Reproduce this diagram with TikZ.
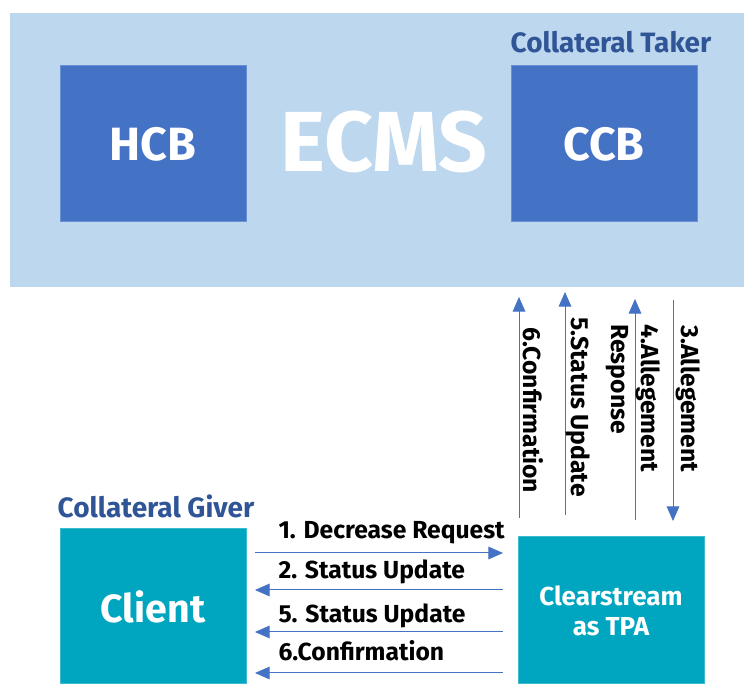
\documentclass[tikz,border=0pt]{standalone}
\usepackage{fontspec}
\setmainfont{Fira Sans}
\usetikzlibrary{arrows.meta}
\definecolor{ecmsbg}{HTML}{BDD7EE}
\definecolor{cbblue}{HTML}{4472C4}
\definecolor{cbedge}{HTML}{6A8FD6}
\definecolor{tpateal}{HTML}{00A6BF}
\definecolor{tpaedge}{HTML}{3DBACD}
\definecolor{rolecol}{HTML}{2F5597}

\tikzset{every picture/.style={line width=0.75pt}}

\begin{document}
\begin{tikzpicture}[x=0.75pt,y=0.75pt,yscale=-1,xscale=1,
	cbbox/.style={draw=cbedge,fill=cbblue,text=white,minimum width=139.5pt,minimum height=117pt,inner sep=0pt,font=\fontsize{35}{40}\selectfont\bfseries},
	tpabox/.style={draw=tpaedge,fill=tpateal,text=white,minimum width=139.5pt,inner sep=0pt,align=center},
	role/.style={text=rolecol,font=\fontsize{21}{24}\selectfont\bfseries,inner sep=0pt},
	msg/.style={font=\fontsize{18.5}{22}\selectfont\bfseries,inner sep=0pt},
	vmsg/.style={font=\fontsize{18.5}{22.5}\selectfont\bfseries,inner sep=0pt,rotate=-90,anchor=west,align=left},
	flow/.style={draw=cbblue,-{Triangle[length=11pt,width=9.5pt]}}]
	\useasboundingbox (0,0) rectangle (744,684);
	
	%ECMS background
	\fill [ecmsbg] (10,13) rectangle (744,287);
	\draw (384,142) node [text=white,font=\fontsize{64}{70}\selectfont\bfseries,inner sep=0pt] (ecms) {ECMS};
	
	%Central bank boxes
	\node [cbbox] (hcb) at (153,144) {HCB};
	\node [cbbox] (ccb) at (604,144) {CCB};
	\node [role] (taker) at (611,42) {Collateral Taker};
	
	%Client and TPA
	\node [tpabox,minimum height=116.25pt,font=\fontsize{29.5}{34}\selectfont\bfseries] (client) at (153,606.5) {Client};
	\node [tpabox,minimum height=110.25pt,font=\fontsize{19.5}{22.5}\selectfont\bfseries] (tpa) at (611,610.5) {Clearstream\\as TPA};
	\node [role] (giver) at (156,506) {Collateral Giver};
	
	%Horizontal message ends
	\coordinate (m1a) at (255,553); \coordinate (m1b) at (503,553);
	\coordinate (m2a) at (255,590); \coordinate (m2b) at (503,590);
	\coordinate (m5a) at (255,632); \coordinate (m5b) at (503,632);
	\coordinate (m6a) at (255,673); \coordinate (m6b) at (503,673);
	\draw [flow] (m1a) -- (m1b);
	\draw [flow] (m2b) -- (m2a);
	\draw [flow] (m5b) -- (m5a);
	\draw [flow] (m6b) -- (m6a);
	
	%Vertical message ends
	\coordinate (v6a) at (519,518); \coordinate (v6b) at (519,297);
	\coordinate (v5a) at (565,515); \coordinate (v5b) at (565,292);
	\coordinate (v4a) at (635,520); \coordinate (v4b) at (635,299);
	\coordinate (v3a) at (673,300); \coordinate (v3b) at (673,521);
	\draw [flow] (v6a) -- (v6b);
	\draw [flow] (v5a) -- (v5b);
	\draw [flow] (v4a) -- (v4b);
	\draw [flow] (v3a) -- (v3b);
	
	% Text Node
	\draw (278,533) node [msg,anchor=west] (t1) {1. Decrease Request};
	% Text Node
	\draw (278,572) node [msg,anchor=west] (t2) {2. Status Update};
	% Text Node
	\draw (278,616) node [msg,anchor=west] (t5) {5. Status Update};
	% Text Node
	\draw (278,651) node [msg,anchor=west] (t6) {6.Confirmation};
	% Text Node
	\draw (533,327) node [vmsg] (u6) {6.Confirmation};
	% Text Node
	\draw (578,317) node [vmsg] (u5) {5.Status Update};
	% Text Node
	\draw (633,324) node [vmsg] (u4) {4.Allegement\\Response};
	% Text Node
	\draw (688,325) node [vmsg] (u3) {3.Allegement};
\end{tikzpicture}
\end{document}
